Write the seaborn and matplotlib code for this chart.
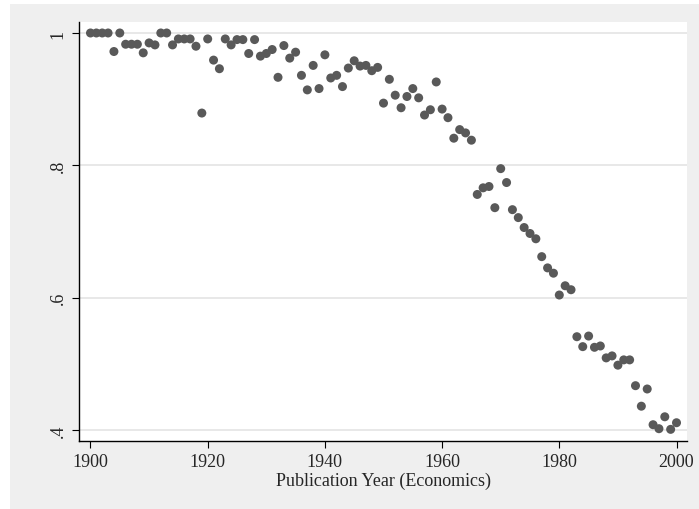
import numpy as np
import pandas as pd
import matplotlib
matplotlib.use('Agg')
import matplotlib.pyplot as plt
import seaborn as sns
from matplotlib.patches import Rectangle

# доля по годам публикации
years = list(range(1900, 2001))
share = [1.000, 1.000, 1.000, 1.000, 0.972, 1.000, 0.983, 0.983, 0.983, 0.970,
         0.985, 0.982, 1.000, 1.000, 0.982, 0.991, 0.991, 0.991, 0.980, 0.879,
         0.991, 0.959, 0.946, 0.991, 0.982, 0.990, 0.990, 0.969, 0.990, 0.965,
         0.969, 0.975, 0.933, 0.981, 0.962, 0.971, 0.936, 0.914, 0.951, 0.916,
         0.967, 0.932, 0.936, 0.919, 0.947, 0.958, 0.950, 0.951, 0.943, 0.948,
         0.894, 0.930, 0.906, 0.887, 0.904, 0.916, 0.902, 0.876, 0.884, 0.926,
         0.885, 0.872, 0.841, 0.854, 0.849, 0.838, 0.756, 0.766, 0.768, 0.736,
         0.795, 0.774, 0.733, 0.721, 0.706, 0.697, 0.689, 0.662, 0.645, 0.637,
         0.604, 0.618, 0.612, 0.541, 0.526, 0.542, 0.525, 0.527, 0.509, 0.512,
         0.498, 0.506, 0.506, 0.467, 0.436, 0.462, 0.408, 0.402, 0.420, 0.401,
         0.411]
x_ticks = [1900, 1920, 1940, 1960, 1980, 2000]
y_ticks = [0.4, 0.6, 0.8, 1.0]
y_labels = ['.4', '.6', '.8', '1']

df = pd.DataFrame({'year': years, 'share': share})

sns.set_style('white')
plt.rcParams['font.family'] = ['Liberation Serif', 'DejaVu Serif']

fig = plt.figure(figsize=(6.99, 5.10), dpi=100)
fig.patch.set_facecolor('white')
# серый фон как в Stata
bg = Rectangle((10 / 699, 0), 1, 505 / 510, transform=fig.transFigure,
               facecolor='#efefef', edgecolor='none', zorder=-5)
fig.add_artist(bg)
ax = fig.add_axes([79 / 699, 68 / 510, 608 / 699, 419 / 510])
ax.set_zorder(1)
ax.set_facecolor('white')

for v in y_ticks:
    ax.axhline(v, color='#e8e8e8', lw=1.4, zorder=1)

sns.scatterplot(data=df, x='year', y='share', ax=ax, color='#595959',
                s=42, edgecolor='none', zorder=3, clip_on=False)

ax.set_xlim(1898.04, 2001.79)
ax.set_ylim(0.3834, 1.0166)
ax.set_xticks(x_ticks)
ax.set_yticks(y_ticks)
ax.set_yticklabels(y_labels, rotation=90, va='center')
ax.tick_params(axis='both', direction='out', length=5, width=0.8, color='black',
               labelsize=13, pad=4, left=True, bottom=True)
ax.set_xlabel('Publication Year (Economics)', fontsize=13, labelpad=1)
ax.set_ylabel('')

for side in ['top', 'right']:
    ax.spines[side].set_visible(False)
for side in ['left', 'bottom']:
    ax.spines[side].set_color('black')
    ax.spines[side].set_linewidth(1.0)

fig.savefig('out.png', dpi=100)
